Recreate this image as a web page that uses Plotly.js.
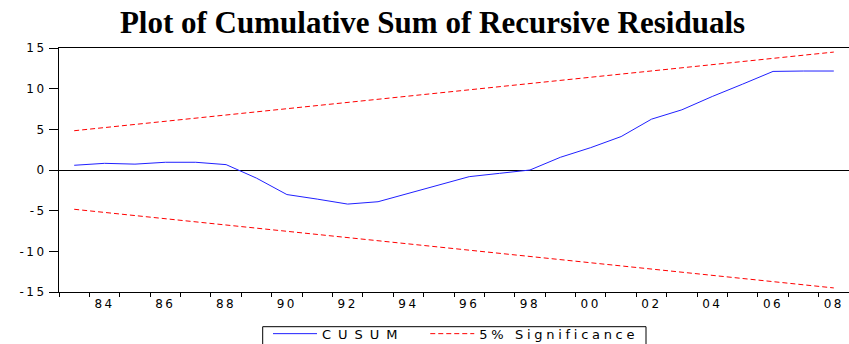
<!DOCTYPE html>
<html>
<head>
<meta charset="utf-8">
<script src="https://cdn.plot.ly/plotly-3.0.1.min.js"></script>
<style>
  html, body { margin: 0; padding: 0; background: #fff; }
  #chart { width: 849px; height: 344px; }
  .xtick text, .ytick text { letter-spacing: 2.5px; }
  .legendtext { letter-spacing: 3.7px; }
</style>
</head>
<body>
<div id="chart"></div>
<script>
// ---- data ----
var years = [1983,1984,1985,1986,1987,1988,1989,1990,1991,1992,1993,1994,1995,
             1996,1997,1998,1999,2000,2001,2002,2003,2004,2005,2006,2007,2008];
var cusum = [0.58,0.82,0.72,0.95,0.95,0.66,-1.0,-3.02,-3.58,-4.19,-3.9,-2.88,-1.85,
             -0.82,-0.41,0.0,1.56,2.75,4.11,6.25,7.40,9.04,10.56,12.12,12.17,12.17];
var boundYears = [1983, 2008];
var upperBound = [4.83, 14.5];
var lowerBound = [-4.83, -14.5];
var xTickVals = [1984,1986,1988,1990,1992,1994,1996,1998,2000,2002,2004,2006,2008];
var xTickText = ['84','86','88','90','92','94','96','98','00','02','04','06','08'];
var yTickVals = [-15,-10,-5,0,5,10,15];
var yTickText = ['-15','-10','-5','0','5','10','15'];
var seriesNames = ['CUSUM', '5% Significance'];

var font = 'DejaVu Sans, Arial, sans-serif';
var W = 849, H = 344, ML = 59, MR = 0, MT = 48, MB = 52;
var PW = W - ML - MR, PH = H - MT - MB;
function px2paperX(px) { return (px - ML) / PW; }
function px2paperY(py) { return (H - MB - py) / PH; }

var traces = [
  { x: years, y: cusum, type: 'scatter', mode: 'lines',
    name: '<span style="letter-spacing:7px">' + seriesNames[0] + '</span>&nbsp;&nbsp;',
    line: { color: '#2020ff', width: 1 } },
  { x: boundYears, y: upperBound, type: 'scatter', mode: 'lines', name: seriesNames[1],
    line: { color: '#ff0000', width: 1, dash: '5px,3px' } },
  { x: boundYears, y: lowerBound, type: 'scatter', mode: 'lines', name: seriesNames[1],
    showlegend: false, line: { color: '#ff0000', width: 1, dash: '5px,3px' } }
];

var layout = {
  width: W, height: H,
  margin: { l: ML, r: MR, t: MT, b: MB, pad: 0, autoexpand: false },
  paper_bgcolor: '#fff', plot_bgcolor: '#fff',
  showlegend: true,
  title: {
    text: 'Plot of Cumulative Sum of Recursive Residuals',
    font: { family: 'Liberation Serif, Times New Roman, serif', size: 31, color: '#000', weight: 'bold' },
    x: 432.5 / W, xanchor: 'center', xref: 'container',
    y: 1 - 22 / H, yanchor: 'middle', yref: 'container'
  },
  xaxis: {
    range: [1982.5, 2008.5],
    tickmode: 'array', tickvals: xTickVals, ticktext: xTickText,
    ticks: '', showgrid: false, zeroline: false,
    showline: true, linecolor: '#000', linewidth: 1, mirror: true,
    tickfont: { family: font, size: 12, color: '#000' },
    ticklabelstandoff: 1,
    minor: { tick0: 1982.5, dtick: 1, ticks: 'outside', ticklen: 4, tickcolor: '#000', tickwidth: 1, showgrid: false }
  },
  yaxis: {
    range: [-15, 15],
    tickmode: 'array', tickvals: yTickVals, ticktext: yTickText,
    ticks: 'outside', ticklen: 9, tickcolor: '#000', tickwidth: 1,
    showgrid: false, zeroline: true, zerolinecolor: '#000', zerolinewidth: 1,
    showline: true, linecolor: '#000', linewidth: 1, mirror: false,
    tickfont: { family: font, size: 12, color: '#000' }
  },
  legend: {
    orientation: 'h',
    xref: 'container', yref: 'container',
    x: 268 / W, xanchor: 'left',
    y: 1 - 318.7 / H, yanchor: 'top',
    borderwidth: 0, bgcolor: 'rgba(0,0,0,0)',
    font: { family: font, size: 13, color: '#000' },
    itemwidth: 44,
    traceorder: 'normal'
  },
  shapes: [
    { type: 'rect', xref: 'paper', yref: 'paper', layer: 'below',
      x0: px2paperX(262.7), x1: px2paperX(646),
      y0: px2paperY(326.7), y1: px2paperY(370),
      line: { color: '#000', width: 1 }, fillcolor: 'rgba(0,0,0,0)' }
  ]
};

Plotly.newPlot('chart', traces, layout, { displayModeBar: false, staticPlot: true });
</script>
</body>
</html>
